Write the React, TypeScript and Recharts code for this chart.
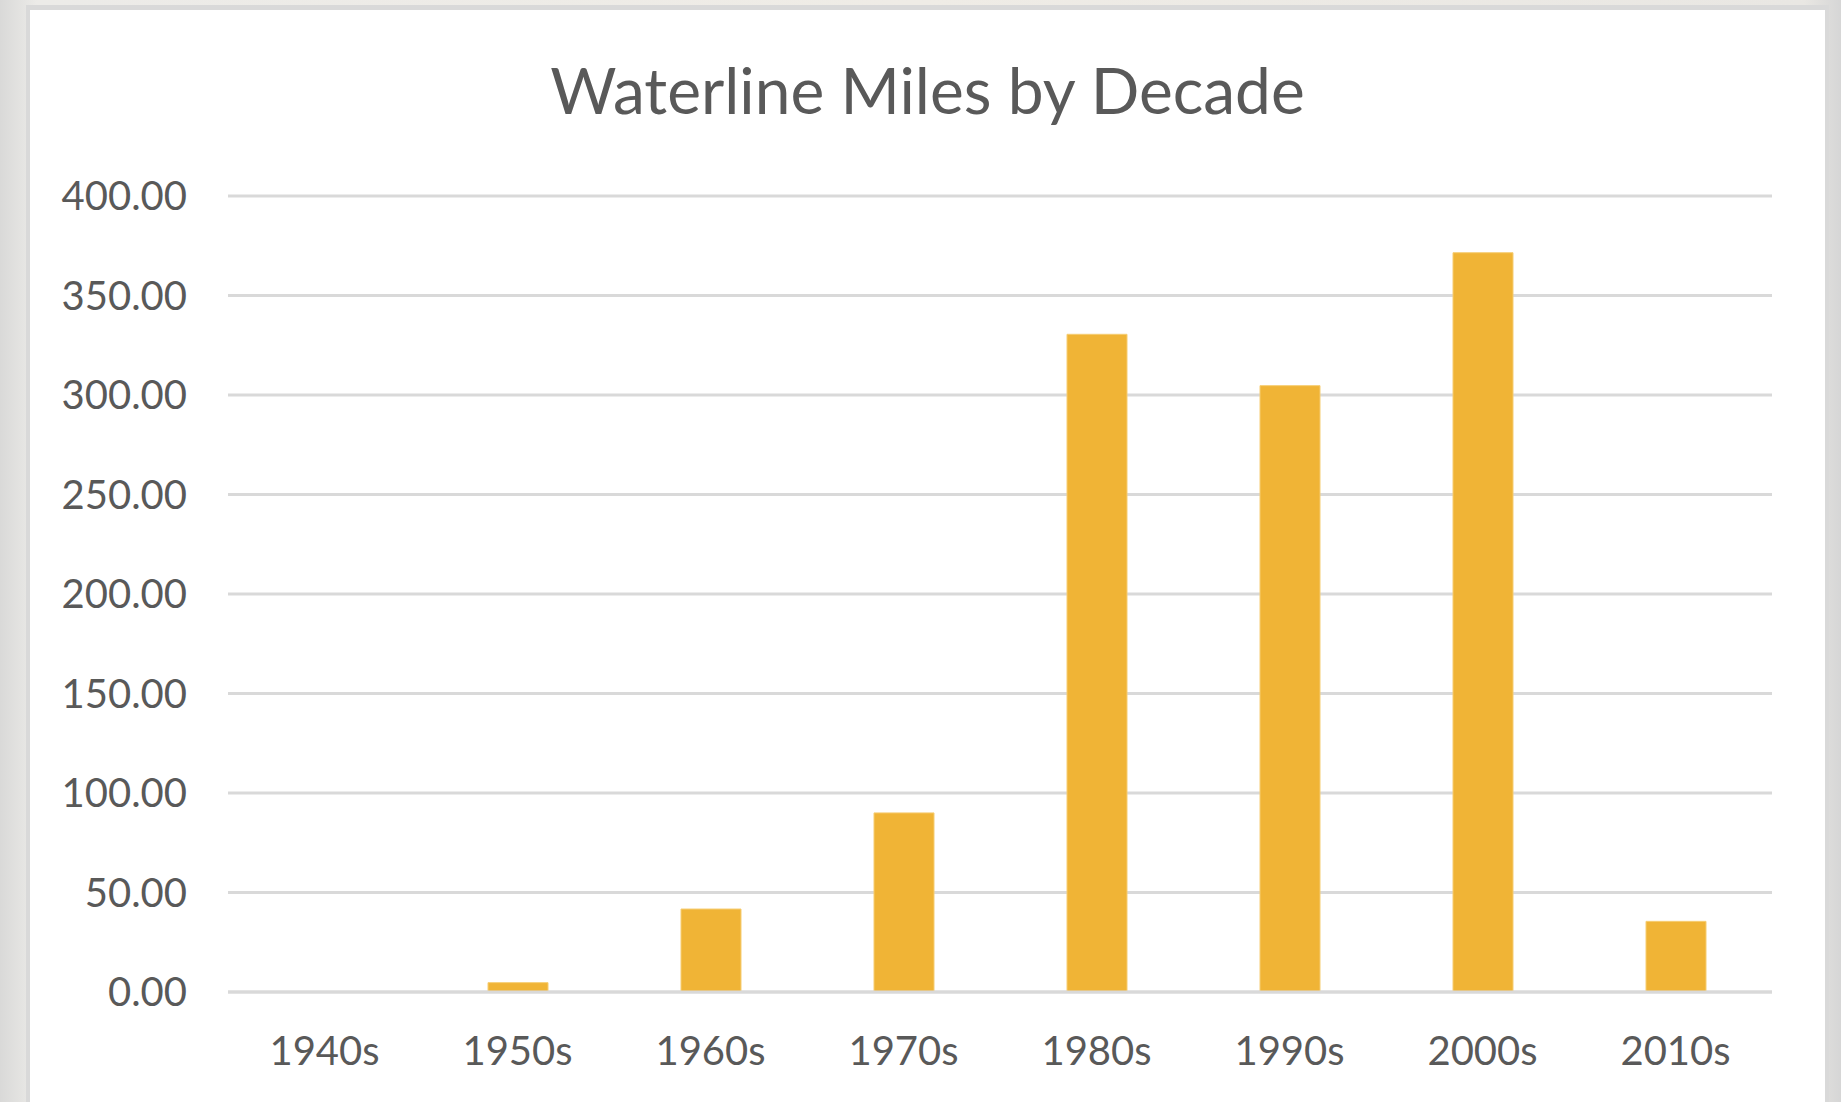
import { BarChart, Bar, XAxis, YAxis, CartesianGrid } from "recharts";

const decades = ["1940s", "1950s", "1960s", "1970s", "1980s", "1990s", "2000s", "2010s"];
const miles = [0, 4.7, 41.7, 90, 330.5, 304.7, 371.5, 35.5];
const yTicks = [0, 50, 100, 150, 200, 250, 300, 350, 400];

const data = decades.map((d, i) => ({ decade: d, miles: miles[i] }));

const FONT = "Lato, 'Open Sans', sans-serif";
const TEXT = "#595959";

function App() {
return (
<div
style={{
position: "absolute",
left: 0,
top: 0,
width: 1841,
height: 1102,
overflow: "hidden",
background: "linear-gradient(to right, #d9d9d8 0%, #ecebe8 2%, #efece6 50%, #e9e7e3 98%, #d6d6d6 100%)",
}}
>
<div
style={{
position: "absolute",
left: 26,
top: 5,
width: 1795,
height: 1120,
background: "#ffffff",
border: "4px solid #d9d9d9",
borderTopWidth: 5,
}}
>
<div
style={{
position: "absolute",
left: 0,
width: 1795,
top: 48,
textAlign: "center",
fontFamily: FONT,
fontSize: 64,
lineHeight: "64px",
color: TEXT,
}}
>
Waterline Miles by Decade
</div>
<div style={{ position: "absolute", left: 0, top: 0 }}>
<BarChart
width={1795}
height={1092}
data={data}
margin={{ top: 186, right: 53, bottom: 0, left: 0 }}
barSize={60}
>
<CartesianGrid vertical={false} stroke="#d9d9d9" strokeWidth={3} />
<XAxis
dataKey="decade"
height={110}
tickSize={0}
tickMargin={45}
axisLine={{ stroke: "#d9d9d9", strokeWidth: 3 }}
tickLine={false}
tick={{ fill: TEXT, fontSize: 40, fontFamily: FONT }}
/>
<YAxis
width={198}
domain={[0, 400]}
ticks={yTicks}
tickSize={0}
tickMargin={41}
axisLine={false}
tickLine={false}
tickFormatter={(v: number) => v.toFixed(2)}
tick={{ fill: TEXT, fontSize: 40, fontFamily: FONT }}
/>
<Bar dataKey="miles" fill="#f0b436" stroke="#f6cd73" strokeWidth={1} isAnimationActive={false} />
</BarChart>
</div>
</div>
</div>
);
}

export default App;
